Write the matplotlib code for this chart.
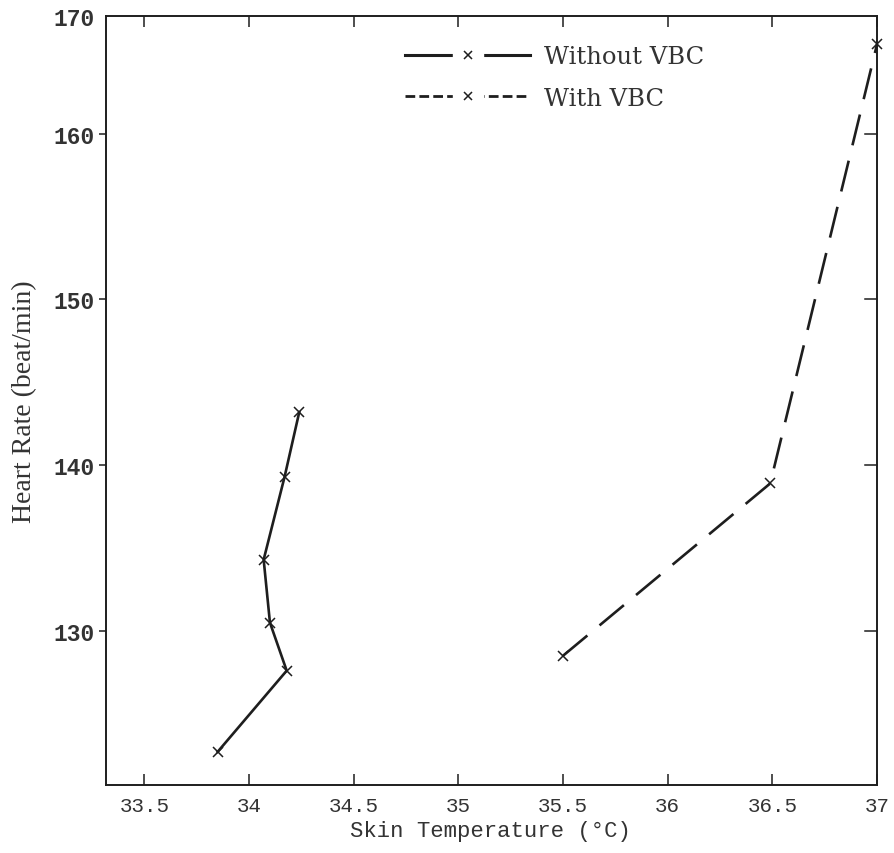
import matplotlib
matplotlib.use("Agg")
import matplotlib.pyplot as plt
from matplotlib.lines import Line2D
from matplotlib.legend_handler import HandlerTuple

# Data (skin temperature in deg C, heart rate in beat/min)
without_temp = [33.85, 34.18, 34.10, 34.07, 34.17, 34.24]
without_hr = [122.7, 127.6, 130.5, 134.3, 139.3, 143.2]
with_temp = [35.50, 36.49, 37.00]
with_hr = [128.5, 138.9, 165.4]

x_ticks = [33.5, 34.0, 34.5, 35.0, 35.5, 36.0, 36.5, 37.0]
x_tick_labels = ["33.5", "34", "34.5", "35", "35.5", "36", "36.5", "37"]
y_ticks = [130, 140, 150, 160]
y_tick_labels = ["130", "140", "150", "160", "170"]

XLIM = (33.317, 37.0)
YLIM = (120.7, 167.1)

INK = "#1e1e1e"
TXT = "#333333"

fig = plt.figure(figsize=(8.94, 8.54), dpi=100)
ax = fig.add_axes([0.1186, 0.0796, 0.981 - 0.1186, 0.980 - 0.0796])

ax.plot(without_temp, without_hr, color=INK, lw=1.9, ls="-",
        marker="x", markersize=7, markeredgewidth=1.1, clip_on=False)
ax.plot(with_temp, with_hr, color=INK, lw=1.9, ls=(0, (12, 6)),
        marker="x", markersize=7, markeredgewidth=1.1, clip_on=False)

ax.set_xlim(*XLIM)
ax.set_ylim(*YLIM)

for s in ax.spines.values():
    s.set_linewidth(1.4)
    s.set_color(INK)

ax.set_xticks(x_ticks)
ax.set_xticklabels(x_tick_labels, fontfamily="Liberation Mono", fontsize=15, color=TXT)
ax.set_yticks(y_ticks + [YLIM[1]])
ax.set_yticklabels(y_tick_labels, fontfamily="Liberation Mono", fontsize=16.5,
                   fontweight="bold", color=TXT)

ax.tick_params(axis="x", direction="in", length=8, width=1.1, top=True, pad=8, colors=INK,
               labelcolor=TXT)
ax.tick_params(axis="y", direction="out", length=5, width=1.1, right=False, pad=3, colors=INK,
               labelcolor=TXT)
# right side inward ticks
for t in y_ticks:
    ax.plot([1.0, 0.985], [t, t], transform=ax.get_yaxis_transform(), color=INK, lw=1.1,
            clip_on=False)
ticks = ax.yaxis.get_major_ticks()
ticks[-1].tick1line.set_visible(False)

ax.set_xlabel("Skin Temperature (°C)", fontfamily="Liberation Mono", fontsize=16, color=TXT)
ax.xaxis.set_label_coords(0.498, -0.045)
ax.set_ylabel("Heart Rate (beat/min)", fontfamily="Liberation Serif", fontsize=20, color=TXT)
ax.yaxis.set_label_coords(-0.090, 0.5)

# Legend: line - x - line with gap around the marker
gap1 = Line2D([], [], color=INK, lw=2.2, ls="-", marker="s", markersize=22,
              markerfacecolor="white", markeredgecolor="white")
gap2 = Line2D([], [], color=INK, lw=2.0, ls=(0, (3.5, 1.5)), marker="s", markersize=22,
              markerfacecolor="white", markeredgecolor="white")
mk = Line2D([], [], ls="none", marker="x", markersize=6, markeredgewidth=1.1, color=INK)
leg = ax.legend([(gap1, mk), (gap2, mk)], ["Without VBC", "With VBC"],
                handler_map={tuple: HandlerTuple(ndivide=1)},
                loc="upper left", bbox_to_anchor=(0.388, 0.962), frameon=False,
                borderpad=0, borderaxespad=0, numpoints=1,
                handlelength=5.15, handletextpad=0.55, labelspacing=0.75,
                prop={"family": "DejaVu Serif", "size": 17.5})
for txt in leg.get_texts():
    txt.set_color(TXT)

fig.savefig("out.png", dpi=100)
